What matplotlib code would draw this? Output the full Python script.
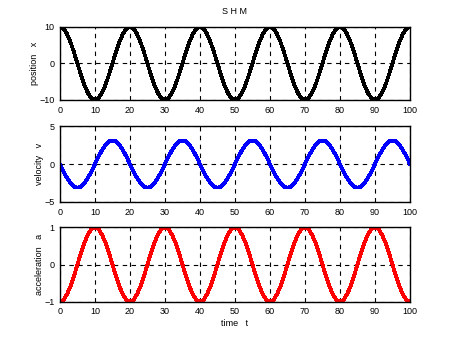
import numpy as np
import matplotlib
matplotlib.use('Agg')
import matplotlib.pyplot as plt

# данные (шаг по времени = 1)
t = list(range(0, 101))

position = [
    10, 9.5, 8.1, 5.9, 3.1, 0, -3.1, -5.9, -8.1, -9.5, -10, -9.5, -8.1, -5.9, -3.1, 0, 3.1, 5.9, 8.1, 9.5,
    10, 9.5, 8.1, 5.9, 3.1, 0, -3.1, -5.9, -8.1, -9.5, -10, -9.5, -8.1, -5.9, -3.1, 0, 3.1, 5.9, 8.1, 9.5,
    10, 9.5, 8.1, 5.9, 3.1, 0, -3.1, -5.9, -8.1, -9.5, -10, -9.5, -8.1, -5.9, -3.1, 0, 3.1, 5.9, 8.1, 9.5,
    10, 9.5, 8.1, 5.9, 3.1, 0, -3.1, -5.9, -8.1, -9.5, -10, -9.5, -8.1, -5.9, -3.1, 0, 3.1, 5.9, 8.1, 9.5,
    10, 9.5, 8.1, 5.9, 3.1, 0, -3.1, -5.9, -8.1, -9.5, -10, -9.5, -8.1, -5.9, -3.1, 0, 3.1, 5.9, 8.1, 9.5,
    10,
]

velocity = [
    0, -1.0, -1.8, -2.5, -3.0, -3.1, -3.0, -2.5, -1.8, -1.0, 0, 1.0, 1.8, 2.5, 3.0, 3.1, 3.0, 2.5, 1.8, 1.0,
    0, -1.0, -1.8, -2.5, -3.0, -3.1, -3.0, -2.5, -1.8, -1.0, 0, 1.0, 1.8, 2.5, 3.0, 3.1, 3.0, 2.5, 1.8, 1.0,
    0, -1.0, -1.8, -2.5, -3.0, -3.1, -3.0, -2.5, -1.8, -1.0, 0, 1.0, 1.8, 2.5, 3.0, 3.1, 3.0, 2.5, 1.8, 1.0,
    0, -1.0, -1.8, -2.5, -3.0, -3.1, -3.0, -2.5, -1.8, -1.0, 0, 1.0, 1.8, 2.5, 3.0, 3.1, 3.0, 2.5, 1.8, 1.0,
    0, -1.0, -1.8, -2.5, -3.0, -3.1, -3.0, -2.5, -1.8, -1.0, 0, 1.0, 1.8, 2.5, 3.0, 3.1, 3.0, 2.5, 1.8, 1.0,
    0,
]

acceleration = [
    -1.0, -0.95, -0.8, -0.59, -0.31, 0, 0.31, 0.59, 0.8, 0.95, 1.0, 0.95, 0.8, 0.59, 0.31, 0, -0.31, -0.59, -0.8, -0.95,
    -1.0, -0.95, -0.8, -0.59, -0.31, 0, 0.31, 0.59, 0.8, 0.95, 1.0, 0.95, 0.8, 0.59, 0.31, 0, -0.31, -0.59, -0.8, -0.95,
    -1.0, -0.95, -0.8, -0.59, -0.31, 0, 0.31, 0.59, 0.8, 0.95, 1.0, 0.95, 0.8, 0.59, 0.31, 0, -0.31, -0.59, -0.8, -0.95,
    -1.0, -0.95, -0.8, -0.59, -0.31, 0, 0.31, 0.59, 0.8, 0.95, 1.0, 0.95, 0.8, 0.59, 0.31, 0, -0.31, -0.59, -0.8, -0.95,
    -1.0, -0.95, -0.8, -0.59, -0.31, 0, 0.31, 0.59, 0.8, 0.95, 1.0, 0.95, 0.8, 0.59, 0.31, 0, -0.31, -0.59, -0.8, -0.95,
    -1.0,
]

x_ticks = [0, 10, 20, 30, 40, 50, 60, 70, 80, 90, 100]
ylabels = ["position   x", "velocity   v", "acceleration   a"]
ylims = [(-10, 10), (-5, 5), (-1, 1)]
yticks = [[-10, 0, 10], [-5, 0, 5], [-1, 0, 1]]
colors = ['black', 'blue', 'red']
series = [position, velocity, acceleration]

plt.rcParams['font.family'] = ['Liberation Sans', 'DejaVu Sans']
plt.rcParams['font.size'] = 6.5

fig = plt.figure(figsize=(4.54, 3.4), dpi=100)
fig.patch.set_facecolor('white')

# положения осей (доли фигуры)
bottoms = [0.706, 0.406, 0.112]
heights = [0.215, 0.223, 0.220]

for i in range(3):
    ax = fig.add_axes([0.132, bottoms[i], 0.771, heights[i]])
    ax.plot(t, series[i], color=colors[i], linewidth=2.0, antialiased=False)
    ax.set_xlim(0, 100)
    ax.set_ylim(*ylims[i])
    ax.set_xticks(x_ticks)
    ax.set_yticks(yticks[i])
    ax.grid(True, color='black', linestyle=(0, (4, 4)), linewidth=0.8)
    ax.tick_params(direction='in', length=0, pad=4)
    for s in ax.spines.values():
        s.set_linewidth(1.0)
    ax.set_ylabel(ylabels[i], labelpad=0)
    if i == 0:
        ax.set_title("S H M", fontsize=6.5, pad=9)
    if i == 2:
        ax.set_xlabel("time   t", labelpad=2)

plt.savefig("out.png", dpi=100)
